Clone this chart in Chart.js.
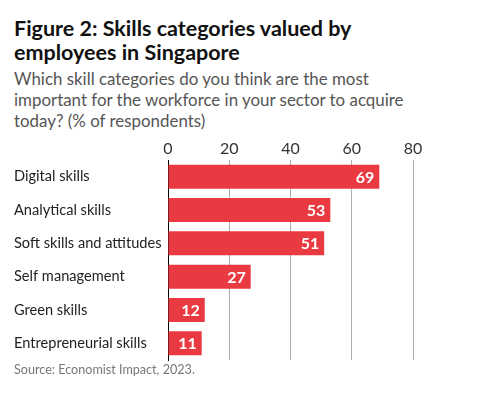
<!DOCTYPE html>
<html>
<head>
<meta charset="utf-8">
<script src="https://cdn.jsdelivr.net/npm/chart.js@4.4.0/dist/chart.umd.min.js"></script>
<style>
    html, body { margin: 0; padding: 0; background: #fff; }
    body { width: 482px; height: 396px; position: relative; overflow: hidden; font-family: Lato, sans-serif; }
    #title { position: absolute; left: 14px; top: 16px; font-size: 21.5px; font-weight: 700; line-height: 24px; color: #111; }
    #subtitle { position: absolute; left: 14px; top: 68px; font-size: 16.9px; line-height: 21px; color: #555; }
    #source { position: absolute; left: 14px; top: 362px; font-size: 12.6px; color: #777; }
    #wrap { position: absolute; left: 0; top: 0; width: 482px; height: 396px; }
</style>
</head>
<body>
<div id="title">Figure 2: Skills categories valued by<br>employees in Singapore</div>
<div id="subtitle">Which skill categories do you think are the most<br>important for the workforce in your sector to acquire<br>today? (% of respondents)</div>
<div id="wrap"><canvas id="skillsChart" width="482" height="396"></canvas></div>
<div id="source">Source: Economist Impact, 2023.</div>
<script>
    // Dữ liệu biểu đồ
    const categories = ['Digital skills', 'Analytical skills', 'Soft skills and attitudes', 'Self management', 'Green skills', 'Entrepreneurial skills'];
    const values = [69, 53, 51, 27, 12, 11];
    const tickValues = [0, 20, 40, 60, 80];

    const barColor = '#e83a40';

    // Vẽ số liệu màu trắng ở cuối mỗi thanh
    const valueLabels = {
        id: 'valueLabels',
        afterDatasetsDraw(chart) {
            const ctx = chart.ctx;
            const meta = chart.getDatasetMeta(0);
            ctx.save();
            ctx.font = 'bold 16px Lato, sans-serif';
            ctx.fillStyle = '#fff';
            ctx.textAlign = 'right';
            ctx.textBaseline = 'middle';
            meta.data.forEach((bar, i) => {
                ctx.fillText(values[i], bar.x - 5, bar.y + 1);
            });
            ctx.restore();
        }
    };

    document.addEventListener('DOMContentLoaded', () => {
        const ctx = document.getElementById('skillsChart').getContext('2d');
        new Chart(ctx, {
            type: 'bar',
            data: {
                labels: categories,
                datasets: [{
                    data: values,
                    backgroundColor: barColor,
                    borderWidth: 0,
                    categoryPercentage: 0.8,
                    barPercentage: 0.9
                }]
            },
            options: {
                indexAxis: 'y',
                responsive: false,
                animation: false,
                layout: { padding: { top: 136, bottom: 36, left: 14, right: 69 } },
                plugins: { legend: { display: false }, tooltip: { enabled: false } },
                scales: {
                    x: {
                        position: 'top',
                        min: 0,
                        max: 80,
                        afterBuildTicks: (axis) => { axis.ticks = tickValues.map(v => ({ value: v })); },
                        afterFit: (axis) => { axis.height = 24; },
                        ticks: { color: '#333', font: { family: 'Lato', size: 16 }, padding: 2 },
                        grid: { color: '#a9adb3', lineWidth: 1, drawTicks: false },
                        border: { display: false }
                    },
                    y: {
                        afterFit: (axis) => { axis.width = 154; },
                        ticks: { color: '#222', font: { family: 'Lato', size: 14.6 }, crossAlign: 'far', padding: 6 },
                        grid: { display: false, drawTicks: false },
                        border: { display: true, color: '#000', width: 1 }
                    }
                }
            },
            plugins: [valueLabels]
        });
    });
</script>
</body>
</html>
